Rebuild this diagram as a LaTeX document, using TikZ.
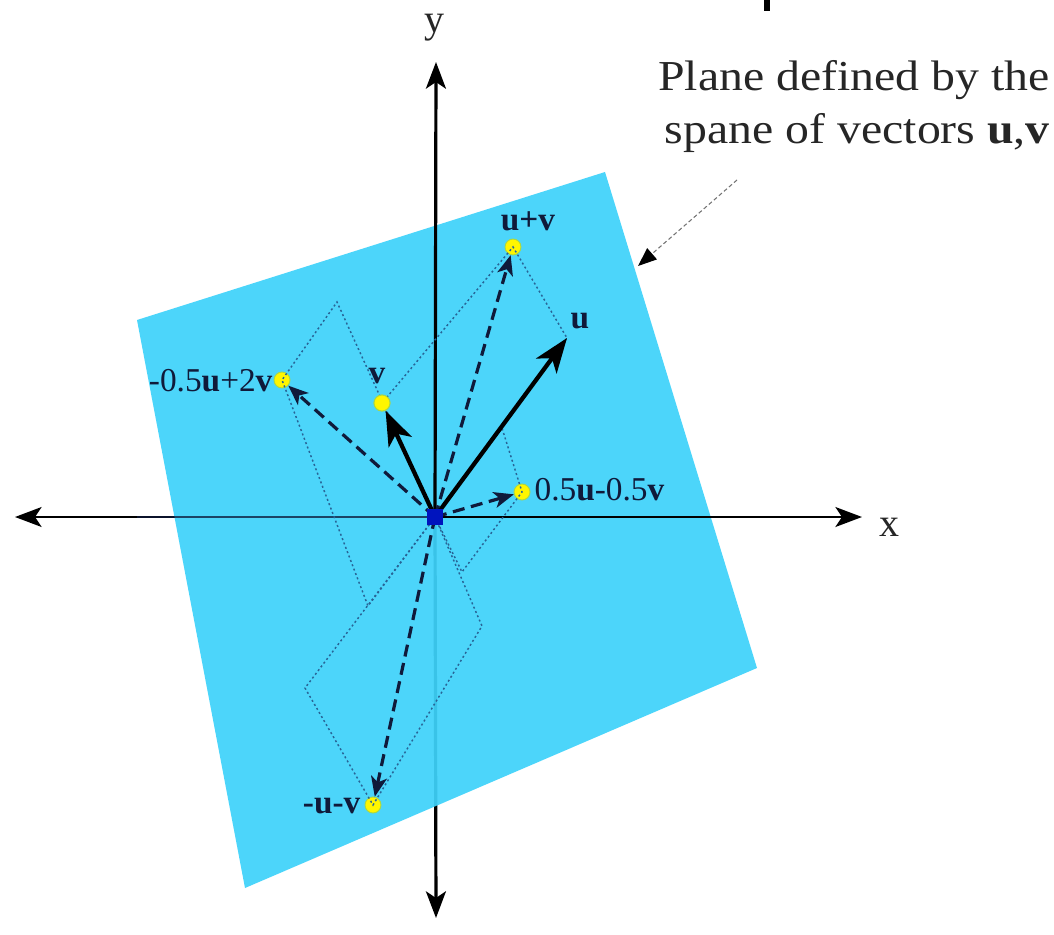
\documentclass[tikz,border=0pt]{standalone}
\usepackage{fontspec}
\setmainfont{Liberation Serif}
\usetikzlibrary{arrows.meta}
\definecolor{planec}{RGB}{62,210,250}
\definecolor{navy}{RGB}{16,26,58}
\definecolor{dotc}{RGB}{255,246,0}
\definecolor{dotedge}{RGB}{170,215,70}
\definecolor{parac}{RGB}{40,100,150}
\definecolor{origc}{RGB}{0,20,190}
\tikzset{
  axisline/.style={draw=black,-{Stealth[length=20pt,width=15pt,inset=5pt]}},
  basevec/.style={draw=black,line width=3.2pt,-{Stealth[length=26pt,width=19pt,inset=7pt]}},
  combvec/.style={draw=navy,line width=2.4pt,dash pattern=on 9pt off 5pt,-{Stealth[length=15pt,width=12pt,inset=4pt]}},
  ydot/.style={circle,fill=dotc,draw=dotedge,line width=0.7pt,minimum size=12pt,inner sep=0pt},
  para/.style={draw=parac,line width=1.1pt,dash pattern=on 1.5pt off 2pt},
  veclabel/.style={text=navy,font=\fontsize{25}{29}\selectfont,inner sep=1pt},
  axlabel/.style={text=black!85,font=\fontsize{30}{34}\selectfont,inner sep=0pt},
  plabel/.style={text=black!85,font=\fontsize{32}{36}\selectfont,inner sep=0pt},
}
\begin{document}
\begin{tikzpicture}[x=0.75pt,y=-0.75pt]
\useasboundingbox (0,0) rectangle (1054,935);
% points
\coordinate (O) at (435,517);
\coordinate (XL) at (15,517);
\coordinate (XR) at (862,517);
\coordinate (YT) at (436,62);
\coordinate (YB) at (436,918);
\coordinate (U) at (567,338);
% plane corners
\coordinate (P1) at (137,320);
\coordinate (P2) at (605,172);
\coordinate (P3) at (757,668);
\coordinate (P4) at (245,888);
% parallelogram corners
\coordinate (Q2v) at (337,302);
\coordinate (Qmhu) at (368,606);
\coordinate (Qhu) at (502,428);
\coordinate (Qmhv) at (462,572);
\coordinate (Qmu) at (305,688);
\coordinate (Qmv) at (482,626);
% axes under the plane
\draw[axisline,line width=1.5pt] (O) -- (XL);
\draw[axisline,line width=2.4pt] (O) -- (YB);
% plane
\fill[planec,fill opacity=0.93] (P1) -- (P2) -- (P3) -- (P4) -- cycle;
\draw[navy,line width=1.1pt,opacity=0.75] (O) -- (137,517);
% positive axes on top
\draw[axisline,line width=1.5pt] (O) -- (XR);
\draw[axisline,line width=2.4pt] (O) -- (YT);
% dots
\node[ydot] (UV) at (513,247) {};
\node[ydot] (V) at (382,403) {};
\node[ydot] (A) at (282,380) {};
\node[ydot] (B) at (522,492) {};
\node[ydot] (C) at (373,805) {};
% dotted parallelograms
\draw[para] (O) -- (U) -- (UV.center) -- (V.center) -- cycle;
\draw[para] (O) -- (Qmhu) -- (A.center) -- (Q2v) -- cycle;
\draw[para] (O) -- (Qhu) -- (B.center) -- (Qmhv) -- cycle;
\draw[para] (O) -- (Qmu) -- (C.center) -- (Qmv) -- cycle;
% vectors
\draw[combvec] (O) -- (UV);
\draw[combvec] (O) -- (A);
\draw[combvec] (O) -- (B);
\draw[combvec] (O) -- (C);
\draw[basevec] (O) -- (U);
\draw[basevec] (O) -- (V);
\node[ydot] at (V) {};
% origin
\node[fill=origc,minimum size=12pt,inner sep=0pt] (Onode) at (O) {};
% labels
\node[veclabel] (lu) at (580,321) {\textbf{u}};
\node[veclabel] (lv) at (377,376) {\textbf{v}};
\node[veclabel] (luv) at (528,221) {\textbf{u+v}};
\node[veclabel,anchor=east] (lA) at (274,381) {-0.5\textbf{u}+2\textbf{v}};
\node[veclabel,anchor=west] (lB) at (533,490) {0.5\textbf{u}-0.5\textbf{v}};
\node[veclabel,anchor=east] (lC) at (362,806) {\textbf{-u-v}};
\node[axlabel] (lx) at (889,527) {x};
\node[axlabel] (ly) at (434,28) {y};
% plane label and pointer
\node[plabel,anchor=base east] (t1) at (1050,90) {\scalebox{1.12}[1]{Plane defined by the}};
\node[plabel,anchor=base east] (t2) at (1050,143) {\scalebox{1.12}[1]{spane of vectors \textbf{u},\textbf{v}}};
\coordinate (ptrS) at (737,180);
\coordinate (ptrE) at (638,266);
\draw[black!55,line width=0.8pt,dash pattern=on 3pt off 2pt,-{Triangle[length=14pt,width=11pt,color=black]}] (ptrS) -- (ptrE);
% cropped mark at the top
\fill[black] (764,0) rectangle (770,11);
\end{tikzpicture}
\end{document}
